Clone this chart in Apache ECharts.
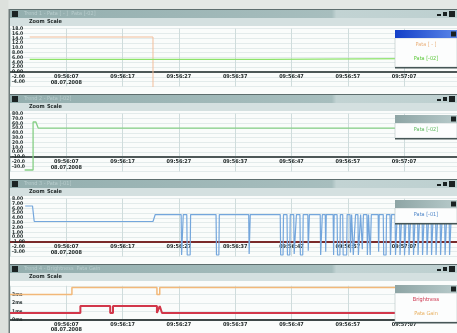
<!DOCTYPE html>
<html><head><meta charset="utf-8">
<script src="https://cdn.jsdelivr.net/npm/echarts@6/dist/echarts.min.js"></script>
<style>html,body{margin:0;padding:0;background:#e6e9e7;}#c{width:457px;height:333px;}</style>
</head><body><div id="c"></div>
<script>
// ---- data (time in seconds from left edge, values in axis units) ----
const xTickLabels = ['', '09:56:07\n08.07.2008', '09:56:17', '09:56:27', '09:56:37', '09:56:47', '09:56:57', '09:57:07'];
const yLabelsP1 = ['', '-4.00', '-2.00', '0.00', '2.00', '4.00', '6.00', '8.00', '10.0', '12.0', '14.0', '16.0', '18.0'];
const yLabelsP2 = ['', '-30.0', '-20.0', '-10.0', '0.00', '10.0', '20.0', '30.0', '40.0', '50.0', '60.0', '70.0', '80.0'];
const yLabelsP3 = ['', '-3.00', '-2.00', '-1.00', '0.00', '1.00', '2.00', '3.00', '4.00', '5.00', '6.00', '7.00', '8.00'];
const yLabelsP4 = ['0ms', '1ms', '2ms', '3ms'];

const p1Orange = [[3.5, 7.26], [25.4, 7.26], [25.4, -3.2]];
const p1Green = [[3.5, 2.63], [45.8, 2.63], [45.8, 2.84], [79.4, 2.84]];
const p2Green = [[2.6, -2.7], [4.1, -2.7], [4.1, 7.26], [4.6, 7.26], [5.0, 6.0], [79.4, 6.0]];
const p3Start = [[2.7, 7.47], [4.0, 7.47], [4.3, 4.25], [25.4, 4.25], [25.8, 5.7]];
const p3Top = 5.7;
const p3End = 79.4;
// dips: [time down, time up, lowest value]
const p3Dips = [
  [30.4, 30.7, -2.7], [31.4, 32.0, -2.7], [36.6, 37.1, -2.7], [42.4, 42.6, -2.5],
  [48.0, 48.5, -2.7], [49.2, 49.7, -2.7], [50.4, 50.8, -2.5], [51.5, 52.0, -2.7],
  [52.9, 53.1, -1.8], [55.1, 55.4, -2.7], [56.0, 56.1, -2.0], [57.4, 57.5, -2.7],
  [58.1, 58.6, -2.7], [59.1, 59.8, -2.7], [60.4, 60.6, -2.2], [60.9, 61.3, -2.7],
  [61.8, 62.2, -2.7], [62.5, 62.7, -1.5], [63.4, 63.6, -2.7], [63.9, 64.1, -2.7],
  [65.4, 65.5, -2.0], [66.3, 66.8, -2.7], [67.5, 67.7, -2.7], [68.4, 68.7, -2.7],
  [69.2, 69.5, -2.7], [70.0, 70.3, -2.7], [70.8, 71.1, -2.7], [71.6, 71.9, -2.7],
  [72.4, 72.7, -2.7], [73.2, 73.5, -2.7], [74.0, 74.3, -2.7], [74.8, 75.1, -2.7],
  [75.6, 75.9, -2.7], [76.4, 76.7, -2.7], [77.2, 77.5, -2.7], [78.0, 78.3, -2.7]
];
const p4Red = [[0, 0.8], [12.5, 0.8], [12.5, 1.62], [17.8, 1.62], [17.8, 0.8], [18.3, 0.8], [18.3, 1.62],
  [26.1, 1.62], [26.1, 0.8], [26.6, 1.62], [27.0, 0.8], [79.4, 0.8]];
const p4Orange = [[0, 2.98], [11.0, 2.98], [11.0, 3.79], [26.1, 3.79], [26.1, 2.98], [26.6, 2.98], [26.6, 3.79], [79.4, 3.79]];

const legendItems = [
  [['Pata [ - ]', '#eab27e'], ['Pata [-02]', '#5cc83a']],
  [['Pata [-02]', '#5cb85c']],
  [['Pata [-01]', '#4f86c8']],
  [['Brightness', '#cc2e48'], ['Pata Gain', '#e8b060']]
];
const titles = ['Trend 1 - Pata [ - ]  Pata [-02]', 'Trend 2 - Pata [-02]', 'Trend 3 - Pata [-01]', 'Trend 4 - Brightness  Pata Gain'];

// ---- build ----
const p3Blue = p3Start.slice();
p3Dips.forEach(d => {
  p3Blue.push([d[0], p3Top], [d[0] + 0.08, d[2]], [d[1], d[2]], [d[1] + 0.08, p3Top]);
});
p3Blue.push([p3End, p3Top]);

const FONT = "'Liberation Sans Narrow','DejaVu Sans Condensed','Liberation Sans',sans-serif";
const tops = [10, 95, 180, 265];
const U = 4.82;
const grids = [], xAxes = [], yAxes = [];
const yLabelSets = [yLabelsP1, yLabelsP2, yLabelsP3];
const axisColors = ['#4e5858', '#4e5858', '#7a2a2a', '#3e4848'];
tops.forEach((t, k) => {
  if (k < 3) {
    grids.push({left: 10, right: 0, top: t + 62 - 9 * U, height: 12 * U});
  } else {
    grids.push({left: 10, right: 0, top: 285.8, height: 41.2});
  }
  xAxes.push({
    type: 'value', gridIndex: k, min: 0, max: 79.4, interval: 10,
    offset: k < 3 ? -3 * U : 0,
    axisLine: {onZero: false, lineStyle: {color: axisColors[k], width: 2.2}},
    axisTick: {show: false},
    axisLabel: {showMinLabel: false, showMaxLabel: false, margin: 2, fontSize: 5.5, fontWeight: 'bold',
      lineHeight: 5.5, color: '#1e2626', fontFamily: FONT,
      formatter: v => xTickLabels[Math.round(v / 10)] || ''},
    splitLine: {show: true, lineStyle: {color: '#cfdcdc', width: 1}}
  });
  if (k < 3) {
    const labs = yLabelSets[k];
    yAxes.push({
      type: 'value', gridIndex: k, min: -3, max: 9, interval: 1,
      axisLine: {show: false}, axisTick: {show: false},
      axisLabel: {inside: true, showMinLabel: false, margin: 2, fontSize: 5, fontWeight: 'bold',
        color: '#263030', fontFamily: FONT, formatter: v => labs[Math.round(v) + 3] || ''},
      splitLine: {show: true, lineStyle: {color: '#e3ebeb', width: 1}}
    });
  } else {
    yAxes.push({
      type: 'value', gridIndex: k, min: 0, max: 4, interval: 1,
      axisLine: {show: false}, axisTick: {show: false},
      axisLabel: {inside: true, showMaxLabel: false, margin: 2, fontSize: 5, fontWeight: 'bold',
        padding: [0, 0, 10, 0], color: '#263030', fontFamily: FONT,
        formatter: v => yLabelsP4[Math.round(v)] || ''},
      splitLine: {show: true, lineStyle: {color: '#e3ebeb', width: 1}}
    });
  }
});

function line(name, k, data, color, width) {
  return {name, type: 'line', xAxisIndex: k, yAxisIndex: k, data, symbol: 'none', showSymbol: false,
    lineStyle: {color, width}, itemStyle: {color}, animation: false, z: 3};
}
const series = [
  line('Pata [ - ]', 0, p1Orange, '#f2bd9a', 1),
  line('Pata [-02]', 0, p1Green, '#8ee36a', 1.3),
  line('Pata [-02] ', 1, p2Green, '#86cf86', 1.3),
  line('Pata [-01]', 2, p3Blue, '#74a6dc', 1.2),
  line('Pata Gain', 3, p4Orange, '#f2b878', 1.5),
  line('Brightness', 3, p4Red, '#d2374a', 2)
];

const g = [];
g.push({type: 'rect', shape: {x: 0, y: 0, width: 457, height: 333}, style: {fill: '#e4e8e5'}, z: -20});
tops.forEach((t, k) => {
  g.push({type: 'rect', shape: {x: 10, y: t + 16, width: 447, height: 68}, style: {fill: '#fafcfb'}, z: -10});
  g.push({type: 'rect', shape: {x: 10, y: t - 1, width: 447, height: 1}, style: {fill: '#5e6e6e'}, z: -5});
  g.push({type: 'rect', shape: {x: 10, y: t, width: 447, height: 8}, style: {fill: new echarts.graphic.LinearGradient(0, 0, 1, 0, [
    {offset: 0, color: '#93aeae'}, {offset: 0.72, color: '#a7bebe'}, {offset: 0.73, color: '#c2d3d3'}, {offset: 1, color: '#bdd0d0'}])}, z: -5});
  g.push({type: 'text', x: 24, y: t + 4, style: {text: titles[k], fill: '#b8cccc', fontSize: 5.5, fontFamily: FONT, verticalAlign: 'middle'}, z: -4});
  g.push({type: 'rect', shape: {x: 12, y: t + 1, width: 6, height: 6}, style: {fill: '#1a2222'}, z: -4});
  g.push({type: 'rect', shape: {x: 437, y: t + 4, width: 4, height: 2}, style: {fill: '#1a2222'}, z: -4});
  g.push({type: 'rect', shape: {x: 443, y: t + 2, width: 4, height: 4}, style: {fill: '#1a2222'}, z: -4});
  g.push({type: 'rect', shape: {x: 449, y: t + 1, width: 6, height: 6}, style: {fill: '#1a2222'}, z: -4});
  g.push({type: 'rect', shape: {x: 10, y: t + 8, width: 447, height: 8}, style: {fill: '#d4e0e0'}, z: -5});
  g.push({type: 'text', x: 29, y: t + 12, style: {text: 'Zoom', fill: '#1e2626', fontSize: 5.5, fontWeight: 'bold', fontFamily: FONT, verticalAlign: 'middle'}, z: -4});
  g.push({type: 'text', x: 47, y: t + 12, style: {text: 'Scale', fill: '#1e2626', fontSize: 5.5, fontWeight: 'bold', fontFamily: FONT, verticalAlign: 'middle'}, z: -4});
  // legend box
  const items = legendItems[k];
  const ly = t + 20, bodyH = 14 * items.length + 1;
  const head = k === 0
    ? new echarts.graphic.LinearGradient(0, 0, 1, 0, [{offset: 0, color: '#1440c8'}, {offset: 1, color: '#5a86e8'}])
    : new echarts.graphic.LinearGradient(0, 0, 1, 0, [{offset: 0, color: '#8ea5a5'}, {offset: 1, color: '#b7caca'}]);
  g.push({type: 'rect', shape: {x: 395, y: ly + 8, width: 62, height: bodyH}, style: {fill: '#fcfdfd', stroke: '#b5c2c2', lineWidth: 0.6}, z: 50});
  g.push({type: 'rect', shape: {x: 395, y: ly, width: 62, height: 8}, style: {fill: head}, z: 51});
  g.push({type: 'rect', shape: {x: 451, y: ly + 1.5, width: 5, height: 5}, style: {fill: '#1a2222'}, z: 52});
  g.push({type: 'rect', shape: {x: 395, y: ly + 8 + bodyH, width: 62, height: 1.6}, style: {fill: '#465656'}, z: 52});
  items.forEach((it, i) => {
    g.push({type: 'text', x: 426, y: ly + 8 + 7 + 14 * i, style: {text: it[0], fill: it[1], fontSize: 5.5, fontFamily: FONT,
      align: 'center', verticalAlign: 'middle'}, z: 53});
  });
});
g.push({type: 'rect', shape: {x: 0, y: 0, width: 8.5, height: 333}, style: {fill: '#dde1dd'}, z: 60});
g.push({type: 'rect', shape: {x: 8.5, y: 9, width: 1.5, height: 324}, style: {fill: '#6e7a7a'}, z: 60});

const chart = echarts.init(document.getElementById('c'), null, {renderer: 'canvas'});
chart.setOption({
  animation: false,
  backgroundColor: '#e4e8e5',
  grid: grids, xAxis: xAxes, yAxis: yAxes, series,
  graphic: {elements: g}
});
</script></body></html>
